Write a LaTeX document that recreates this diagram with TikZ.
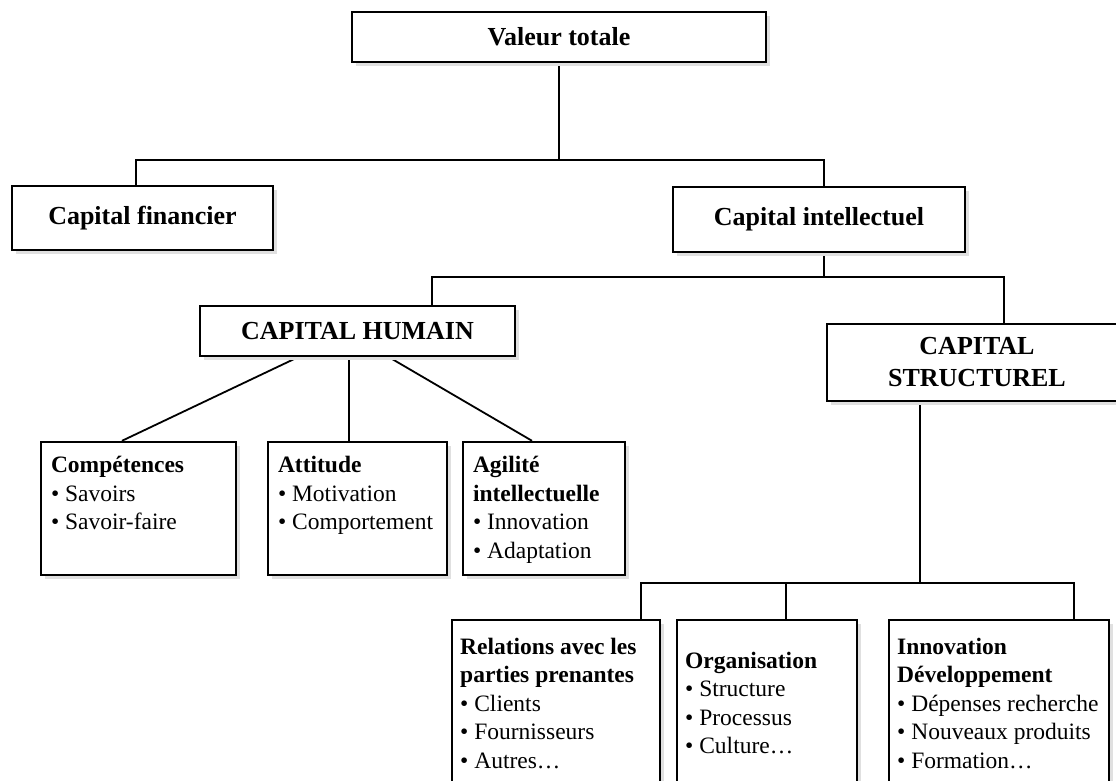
\documentclass[tikz,border=0pt]{standalone}
\usepackage{fontspec}
\setmainfont{Liberation Serif}
\usetikzlibrary{shadows,backgrounds}
\newcommand{\contenuhaut}[2]{\parbox[c][104pt][t]{#1}{#2}}
\tikzset{
boite/.style={draw, line width=2.4pt, fill=white, inner sep=0pt,
  drop shadow={shadow xshift=4pt, shadow yshift=-4pt, fill=black!12, opacity=1}},
titre/.style={boite, font=\bfseries\fontsize{26}{32}\selectfont, align=center},
liste/.style={boite, font=\fontsize{23.5}{28.5}\selectfont},
listebas/.style={liste, inner xsep=8pt, align=flush left, anchor=north west, minimum height=166pt},
lien/.style={line width=1.8pt}
}

\begin{document}
\begin{tikzpicture}[x=1pt, y=-1pt]
\useasboundingbox (0,0) rectangle (1116,781);
\clip (0,0) rectangle (1116,781);

\node[titre, minimum width=414pt, minimum height=50pt] (valeur) at (559,37) {Valeur totale};
\node[titre, minimum width=261pt, minimum height=64pt] (financier) at (142.5,218) {Capital financier};
\node[titre, minimum width=292pt, minimum height=65pt] (intellectuel) at (819,219.5) {Capital intellectuel};
\node[titre, minimum width=315pt, minimum height=50pt] (humain) at (357.5,331) {CAPITAL HUMAIN};
\node[titre, minimum width=300pt, minimum height=77pt] (structurel) at (977,362.5) {CAPITAL\\STRUCTUREL};

\node[liste, minimum width=195pt, minimum height=133pt] (competences) at (138.5,508.5)
  {\contenuhaut{175pt}{\textbf{Compétences}\\•~Savoirs\\•~Savoir-faire}};
\node[liste, minimum width=179pt, minimum height=133pt] (attitude) at (357.5,508.5)
  {\contenuhaut{159pt}{\textbf{Attitude}\\•~Motivation\\•~Comportement}};
\node[liste, minimum width=162pt, minimum height=133pt] (agilite) at (544,508.5)
  {\contenuhaut{142pt}{\textbf{Agilité}\\\textbf{intellectuelle}\\•~Innovation\\•~Adaptation}};

\node[listebas, text width=192pt] (relations) at (451,619)
  {\textbf{Relations avec les}\\\textbf{parties prenantes}\\•~Clients\\•~Fournisseurs\\•~Autres…};
\node[listebas, text width=164pt] (organisation) at (676,619)
  {\textbf{Organisation}\\•~Structure\\•~Processus\\•~Culture…};
\node[listebas, text width=204pt] (innovation) at (888,619)
  {\textbf{Innovation}\\\textbf{Développement}\\\mbox{•~Dépenses recherche}\\\mbox{•~Nouveaux produits}\\•~Formation…};

\coordinate (bus1g) at (136,160);
\coordinate (bus1d) at (824,160);
\coordinate (bus2g) at (432,277);
\coordinate (bus2d) at (1004,277);
\coordinate (bus3g) at (641,583);
\coordinate (bus3m) at (786,583);
\coordinate (bus3d) at (1074,583);

\begin{pgfonlayer}{background}
\draw[lien] (valeur.south) -- (valeur.south |- bus1g);
\draw[lien] (financier.north -| bus1g) -- (bus1g) -- (bus1d) -- (intellectuel.north -| bus1d);
\draw[lien] (intellectuel.south -| bus1d) -- (bus2g -| bus1d);
\draw[lien] (humain.north -| bus2g) -- (bus2g) -- (bus2d) -- (structurel.north -| bus2d);
\draw[lien] (humain.south -| 298,0) -- (competences.north -| 122,0);
\draw[lien] (humain.south -| 349,0) -- (attitude.north -| 349,0);
\draw[lien] (humain.south -| 389,0) -- (agilite.north -| 532,0);
\draw[lien] (structurel.south -| 920,0) -- (bus3g -| 920,0);
\draw[lien] (relations.north -| bus3g) -- (bus3g) -- (bus3d) -- (innovation.north -| bus3d);
\draw[lien] (bus3m) -- (organisation.north -| bus3m);
\end{pgfonlayer}
\end{tikzpicture}
\end{document}
